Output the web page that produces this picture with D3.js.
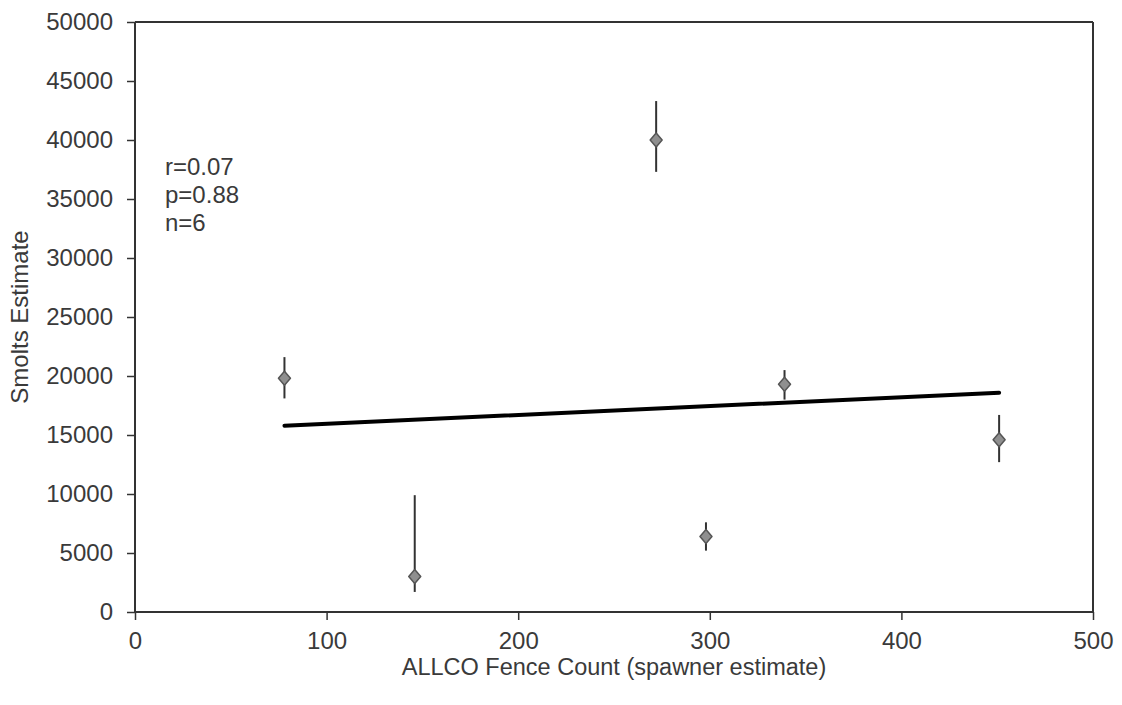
<!DOCTYPE html>
<html><head><meta charset="utf-8">
<script src="https://cdn.jsdelivr.net/npm/d3@7"></script>
<style>body{margin:0;background:#fff}svg{display:block}</style>
</head><body>
<svg id="c" width="1122" height="705"></svg>
<script>
const xVals = [78, 146, 272, 298, 339, 451];
const yVals = [19800, 3000, 40000, 6400, 19300, 14600];
const yUpper = [21600, 9900, 43300, 7600, 20500, 16700];
const yLower = [18100, 1700, 37300, 5200, 18000, 12700];
const xTicks = [0, 100, 200, 300, 400, 500];
const yTicks = [0, 5000, 10000, 15000, 20000, 25000, 30000, 35000, 40000, 45000, 50000];
const statsLines = ["r=0.07", "p=0.88", "n=6"];
const xTitle = "ALLCO Fence Count (spawner estimate)";
const yTitle = "Smolts Estimate";

const svg = d3.select("#c");
const L = 135, R = 1093, T = 22, B = 612;
const x = d3.scaleLinear().domain([0, 500]).range([L, R]);
const y = d3.scaleLinear().domain([0, 50000]).range([B, T]);
const font = "'Liberation Sans', Arial, sans-serif";
const axCol = "#333";
const txtCol = "#3a3a3a";

// frame top/right
svg.append("line").attr("x1", L).attr("x2", R).attr("y1", T).attr("y2", T).attr("stroke", axCol).attr("stroke-width", 2);
svg.append("line").attr("x1", R).attr("x2", R).attr("y1", T).attr("y2", B).attr("stroke", axCol).attr("stroke-width", 2);

const yAxis = svg.append("g").attr("transform", `translate(${L},0)`)
  .call(d3.axisLeft(y).tickValues(yTicks).tickSize(8).tickPadding(14).tickFormat(d3.format("d")));
const xAxis = svg.append("g").attr("transform", `translate(0,${B})`)
  .call(d3.axisBottom(x).tickValues(xTicks).tickSize(8).tickPadding(12).tickFormat(d3.format("d")));
[yAxis, xAxis].forEach(g => {
  g.select(".domain").attr("stroke", axCol).attr("stroke-width", 2);
  g.selectAll(".tick line").attr("stroke", axCol).attr("stroke-width", 1.5);
  g.selectAll("text").attr("fill", txtCol).style("font-family", font).style("font-size", "24px");
});
yAxis.select(".domain").attr("d", `M0,${T}V${B}`);
xAxis.select(".domain").attr("d", `M${L},0H${R}`);

// regression line
const mx = d3.mean(xVals), my = d3.mean(yVals);
const slope = d3.sum(xVals, (v, i) => (v - mx) * (yVals[i] - my)) / d3.sum(xVals, v => (v - mx) ** 2);
const icpt = my - slope * mx;
const xmin = d3.min(xVals), xmax = d3.max(xVals);
svg.append("line")
  .attr("x1", x(xmin)).attr("y1", y(icpt + slope * xmin))
  .attr("x2", x(xmax)).attr("y2", y(icpt + slope * xmax))
  .attr("stroke", "#000").attr("stroke-width", 4).attr("stroke-linecap", "round");

// error bars
const data = xVals.map((v, i) => ({x: v, y: yVals[i], hi: yUpper[i], lo: yLower[i]}));
svg.append("g").selectAll("line").data(data).join("line")
  .attr("x1", d => x(d.x)).attr("x2", d => x(d.x))
  .attr("y1", d => y(d.hi)).attr("y2", d => y(d.lo))
  .attr("stroke", "#333").attr("stroke-width", 2);

// diamond markers (wide diamond)
const wideDiamond = {
  draw(ctx, size) {
    const w = Math.sqrt(size) * 0.6, h = Math.sqrt(size) * 0.7;
    ctx.moveTo(0, -h); ctx.lineTo(w, 0); ctx.lineTo(0, h); ctx.lineTo(-w, 0); ctx.closePath();
  }
};
const sym = d3.symbol().type(wideDiamond).size(100);
svg.append("g").selectAll("path").data(data).join("path")
  .attr("d", sym)
  .attr("transform", d => `translate(${x(d.x)},${y(d.y)})`)
  .attr("fill", "#8f8f8f").attr("stroke", "#555").attr("stroke-width", 1.5).attr("stroke-linejoin", "round");

// stats text
svg.append("g").selectAll("text").data(statsLines).join("text")
  .attr("x", 165).attr("y", (d, i) => 175 + i * 28)
  .style("font-family", font).style("font-size", "24px").attr("fill", txtCol)
  .text(d => d);

// axis titles
svg.append("text").attr("x", 614).attr("y", 675).attr("text-anchor", "middle")
  .style("font-family", font).style("font-size", "23.5px").attr("fill", txtCol).text(xTitle);
svg.append("text").attr("transform", `translate(28,${(T + B) / 2}) rotate(-90)`).attr("text-anchor", "middle")
  .style("font-family", font).style("font-size", "24px").attr("fill", txtCol).text(yTitle);
</script>
</body></html>
